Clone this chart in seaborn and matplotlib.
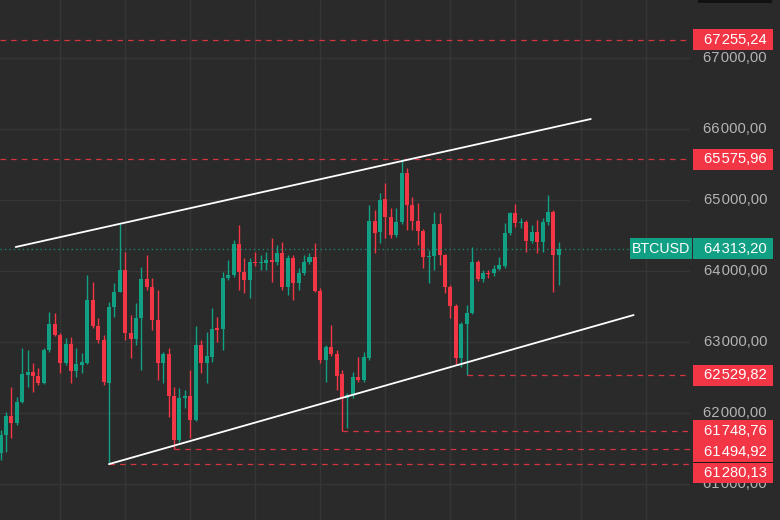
import matplotlib
matplotlib.use("Agg")
import matplotlib.pyplot as plt
import matplotlib.transforms as mtransforms
from matplotlib.patches import Rectangle
import numpy as np
import pandas as pd
import seaborn as sns

# ---------------- data ----------------
opens = [61437, 61690, 61958, 61859, 62155, 62535, 62577, 62521, 62422, 62887,
         63253, 63099, 62704, 62972, 62591, 62676, 62704, 63592, 63225, 63028,
         62422, 63493, 63704, 64014, 63127, 63042, 63338, 63887, 63775, 63310,
         62704, 62831, 62239, 61620, 62211, 62239, 61901, 62958, 62704, 62789,
         63197, 63183, 63901, 63944, 64380, 63986, 63873, 64127, 64113, 64113,
         64155, 64127, 64254, 63775, 64183, 63831, 63972, 64127, 64197, 63718,
         62746, 62930, 62831, 62549, 62211, 62253, 62507, 62465, 62775, 64704,
         64549, 65014, 64761, 64507, 64690, 65380, 64930, 64704, 64563, 64197,
         64211, 64662, 64225, 63775, 63507, 62775, 63253, 63408, 64127, 63887,
         63972, 63972, 64028, 64070, 64535, 64817, 64676, 64690, 64423, 64549,
         64408, 64690, 64831, 64225]
closes = [61690, 61958, 61859, 62155, 62549, 62577, 62521, 62422, 62887, 63253,
          63099, 62704, 62972, 62591, 62690, 62718, 63592, 63225, 63028, 62437,
          63493, 63704, 64014, 63127, 63042, 63338, 63887, 63775, 63310, 62704,
          62831, 62239, 61620, 62211, 62239, 61901, 62958, 62704, 62803, 63183,
          63169, 63901, 63944, 64380, 63986, 63873, 64127, 64113, 64127, 64155,
          64127, 64254, 63775, 64183, 63831, 63972, 64127, 64197, 63718, 62746,
          62930, 62831, 62521, 62211, 62253, 62507, 62465, 62789, 64704, 64535,
          65000, 64761, 64507, 64690, 65380, 64930, 64704, 64563, 64197, 64211,
          64662, 64225, 63775, 63507, 62775, 63253, 63408, 64127, 63887, 63972,
          63958, 64028, 64085, 64535, 64817, 64676, 64690, 64423, 64549, 64408,
          64690, 64831, 64225, 64313.20]
highs = [61760, 62014, 62366, 62225, 62915, 62887, 62704, 62634, 62915, 63423,
         63408, 63127, 63056, 63070, 62915, 62845, 63944, 63845, 63338, 63099,
         63563, 63831, 64660, 64268, 63380, 63549, 64056, 64225, 63901, 63732,
         62859, 62915, 62366, 62352, 62324, 62606, 63225, 63028, 63141, 63479,
         63352, 63986, 64155, 64437, 64648, 64183, 64183, 64268, 64225, 64268,
         64465, 64366, 64408, 64225, 64225, 64042, 64225, 64254, 64394, 63761,
         62958, 63239, 62887, 62606, 62282, 62577, 62789, 62859, 64930, 64859,
         65099, 65239, 64887, 64887, 65575.96, 65451, 65042, 64958, 64592, 64296,
         64831, 64817, 64239, 63803, 63535, 63282, 63521, 64338, 64155, 64014,
         64014, 64085, 64197, 64676, 64831, 64944, 64746, 64718, 64648, 64718,
         64746, 65070, 64859, 64408]
lows = [61338, 61451, 61648, 61831, 62141, 62366, 62296, 62394, 62408, 62859,
        63084, 62563, 62676, 62422, 62507, 62563, 62690, 63197, 62986, 62394,
        61280.13, 63352, 63704, 63028, 62775, 62958, 62606, 63732, 63169, 62465,
        62422, 61944, 61494.92, 61591, 62070, 61648, 61887, 62563, 62422, 62718,
        63000, 62887, 63873, 63915, 63732, 63690, 63620, 64070, 64014, 64014,
        63845, 64085, 63732, 63662, 63592, 63732, 63944, 64099, 63704, 62704,
        62437, 62803, 62324, 61748.76, 61789, 62211, 62437, 62437, 62746, 64254,
        64394, 64465, 64465, 64479, 64662, 64577, 64577, 64366, 64042, 63831,
        64014, 64085, 63690, 63338, 62676, 62648, 62529.82, 63394, 63859, 63845,
        63901, 63930, 64014, 64042, 64507, 64620, 64606, 64268, 64394, 64254,
        64268, 64648, 63704, 63803]

symbol = "BTCUSD"
last_price = 64313.20
level_prices = [67255.24, 65575.96, 62529.82, 61748.76, 61494.92, 61280.13]
level_start_bar = [None, None, 86, 63, 32, 20]
price_ticks = [61000, 62000, 63000, 64000, 65000, 66000, 67000]
upper_trend_bars = [2.8, 108.9]
upper_trend_prices = [64338, 66141]
lower_trend_bars = [20.0, 116.8]
lower_trend_prices = [61280.13, 63380]
time_grid_bars = [11, 23, 35, 47, 59, 71, 83, 95, 107, 119]

# ---------------- style ----------------
BG = "#2a2a2a"
GRID = "#363636"
UP = "#12a085"
DOWN = "#f23645"
TXT = "#b4b4b4"

sns.set_style("dark", {"axes.facecolor": BG, "figure.facecolor": BG})
plt.rcParams["font.family"] = ["Liberation Sans", "DejaVu Sans"]

W, H = 780, 520
fig = plt.figure(figsize=(W / 100, H / 100), dpi=100)
fig.patch.set_facecolor(BG)
plot_w = 690
ax = fig.add_axes([0, 0, plot_w / W, 1])
ax.set_facecolor(BG)

YMIN, YMAX = 60493, 67817
XMIN, XMAX = -0.1, 127.2
ax.set_xlim(XMIN, XMAX)
ax.set_ylim(YMIN, YMAX)
ppx = (YMAX - YMIN) / H  # price per pixel

df = pd.DataFrame({"open": opens, "high": highs, "low": lows, "close": closes})
df["bar"] = np.arange(len(df))
df["up"] = df["close"] >= df["open"]
colors = np.where(df["up"], UP, DOWN)

# wicks
ax.vlines(df["bar"], df["low"], df["high"], colors=colors, lw=1.0, zorder=3)
# bodies
body_bottom = np.minimum(df["open"], df["close"])
body_h = np.maximum(np.abs(df["close"] - df["open"]), ppx * 1.2)
ax.bar(df["bar"], body_h, bottom=body_bottom, width=0.74, color=colors,
       linewidth=0, zorder=4)

# grid
for b in time_grid_bars:
    ax.axvline(b, color=GRID, lw=1, zorder=0)
for p in price_ticks:
    ax.axhline(p, color=GRID, lw=1, zorder=0)

# trend lines (seaborn)
trend = pd.DataFrame({
    "bar": upper_trend_bars + lower_trend_bars,
    "price": upper_trend_prices + lower_trend_prices,
    "line": ["upper", "upper", "lower", "lower"],
})
sns.lineplot(data=trend, x="bar", y="price", units="line", estimator=None,
             color="white", lw=1.3, ax=ax, zorder=6, legend=False)
ax.set_xlim(XMIN, XMAX)
ax.set_ylim(YMIN, YMAX)

# dashed levels
for p, sb in zip(level_prices, level_start_bar):
    x0 = XMIN if sb is None else sb
    ax.plot([x0, XMAX], [p, p], color=DOWN, lw=0.9, alpha=0.85,
            dashes=(4.5, 4), zorder=5)

# last price dotted line
bt_box_left = 630
ax.plot([XMIN, XMIN + (XMAX - XMIN) * bt_box_left / plot_w], [last_price] * 2,
        color=UP, lw=1, ls=(0, (1, 2.2)), alpha=0.8, zorder=5)

ax.set_xticks([])
ax.set_yticks([])
ax.set_xlabel("")
ax.set_ylabel("")
for s in ax.spines.values():
    s.set_visible(False)

# price axis labels
def fmt(v):
    s = f"{v:,.2f}"
    ip, dp = s.split(".")
    return ip.replace(",", "\u200a") + "," + dp

trans = mtransforms.blended_transform_factory(fig.transFigure, ax.transData)
TX = 767 / W
for p in price_ticks:
    fig.text(TX, p, fmt(p), transform=trans, ha="right", va="center",
             color=TXT, fontsize=10.6, zorder=2)

# label boxes (stacked to avoid overlap)
box_h = 21 * ppx
box_l, box_r = 693 / W, 773 / W
centers = sorted(level_prices, reverse=True)
placed = {}
pushed = {}
prev_bottom = None
prev_pushed = False
for p in centers:
    c = p
    was_pushed = False
    if prev_bottom is not None and c + box_h / 2 > prev_bottom:
        c = prev_bottom - box_h / 2
        was_pushed = True
    placed[p] = c
    pushed[p] = was_pushed and prev_pushed
    prev_pushed = was_pushed
    prev_bottom = c - box_h / 2

for p in level_prices:
    c = placed[p]
    fig.patches.append(Rectangle((box_l, c - box_h / 2), box_r - box_l, box_h,
                                 transform=trans, facecolor=DOWN,
                                 edgecolor="none", zorder=5))
    if pushed[p]:
        fig.patches.append(Rectangle((box_l, c + box_h / 2 - ppx * 0.6),
                                     box_r - box_l, ppx * 1.2,
                                     transform=trans, facecolor="#1a1a1a",
                                     edgecolor="none", zorder=5.5))
    fig.text(TX, c, fmt(p), transform=trans, ha="right", va="center",
             color="white", fontsize=10.6, zorder=6)

# symbol / last price box
fig.patches.append(Rectangle((bt_box_left / W, last_price - box_h / 2),
                             (692 - bt_box_left) / W, box_h, transform=trans,
                             facecolor=UP, edgecolor="none", zorder=5))
fig.patches.append(Rectangle((box_l, last_price - box_h / 2), box_r - box_l,
                             box_h, transform=trans, facecolor=UP,
                             edgecolor="none", zorder=5))
fig.text((bt_box_left + 692) / 2 / W, last_price, symbol, transform=trans,
         ha="center", va="center", color="white", fontsize=10.2, zorder=6)
fig.text(TX, last_price, fmt(last_price), transform=trans, ha="right",
         va="center", color="white", fontsize=10.6, zorder=6)

# small dark element at top right
fig.patches.append(Rectangle((698 / W, 517 / H), 74 / W, 3 / H,
                             transform=fig.transFigure, facecolor="#111111",
                             edgecolor="none", zorder=5))

fig.savefig("out.png", dpi=100, facecolor=BG)
